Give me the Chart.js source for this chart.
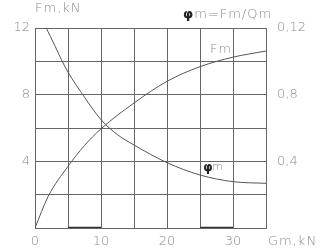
<!DOCTYPE html>
<html>
<head>
<meta charset="utf-8">
<script src="https://cdn.jsdelivr.net/npm/chart.js@4"></script>
<style>
  html, body { margin: 0; padding: 0; background: #fff; }
  #wrap { width: 323px; height: 249px; }
</style>
</head>
<body>
<div id="wrap"><canvas id="fmChart" width="323" height="249"></canvas></div>
<script>
// values
const gmFm = [0, 2, 5, 7.5, 10, 15, 20, 25, 30, 35];
const fmValues = [0, 1.9, 3.7, 4.95, 5.95, 7.5, 8.8, 9.68, 10.25, 10.62];
const gmPhi = [1.7, 3, 4, 5, 7.5, 10, 12.5, 15, 20, 25, 30, 35];
const phiValues = [0.12, 0.1095, 0.101, 0.0935, 0.0785, 0.065, 0.056, 0.0498, 0.0392, 0.0318, 0.0278, 0.0268];
const boldMarksX = [5, 10, null, 25, 30];

const xTickValues = [0, 10, 20, 30];
const xTickLabels = ['0', '10', '20', '30'];
const leftTickValues = [4, 8, 12];
const leftTickLabels = ['4', '8', '12'];
const rightTickValues = [0.04, 0.08, 0.12];
const rightTickLabels = ['0,4', '0,8', '0,12'];

const lineColor = '#666';
const textColor = '#8a8a8a';
const tickFont = { family: 'DejaVu Sans', size: 13, weight: 200 };

function pick(values, labels, v) {
    const i = values.findIndex(t => Math.abs(t - v) < 1e-6);
    return i >= 0 ? labels[i] : '';
}

const textPlugin = {
    id: 'cadText',
    afterDraw(chart) {
        const ctx = chart.ctx;
        const x = chart.scales.x, y = chart.scales.y, y1 = chart.scales.y1;
        ctx.save();
        ctx.fillStyle = textColor;
        ctx.letterSpacing = '1px';
        ctx.textBaseline = 'middle';
        ctx.font = '200 13px "DejaVu Sans"';
        ctx.textAlign = 'left';
        ctx.fillText('Fm,kN', 35, 9);
        ctx.fillText('Gm,kN', x.right + 2, x.bottom - 7);
        // phi title
        let px = 183;
        ctx.fillStyle = '#222';
        ctx.font = 'bold 13px "DejaVu Sans"';
        ctx.fillText('φ', px, 15);
        px += ctx.measureText('φ').width;
        ctx.fillStyle = textColor;
        ctx.font = '200 13px "DejaVu Sans"';
        ctx.fillText('m=Fm/Qm', px, 15);
        // curve labels
        ctx.fillText('Fm', x.getPixelForValue(26.5), y.getPixelForValue(10.7));
        ctx.fillStyle = '#222';
        ctx.font = 'bold 12px "DejaVu Sans"';
        const lx = x.getPixelForValue(25.5), ly = y1.getPixelForValue(0.036);
        ctx.fillText('φ', lx, ly);
        ctx.fillStyle = textColor;
        ctx.font = '200 11px "DejaVu Sans"';
        ctx.fillText('m', lx + 9, ly - 1);
        ctx.restore();
    }
};

new Chart(document.getElementById('fmChart'), {
    type: 'line',
    data: {
        datasets: [
            {
                label: 'Fm',
                data: gmFm.map((g, i) => ({ x: g, y: fmValues[i] })),
                yAxisID: 'y',
                borderColor: '#555', borderWidth: 1, pointRadius: 0,
                cubicInterpolationMode: 'monotone'
            },
            {
                label: 'φm',
                data: gmPhi.map((g, i) => ({ x: g, y: phiValues[i] })),
                yAxisID: 'y1',
                borderColor: '#555', borderWidth: 1, pointRadius: 0,
                cubicInterpolationMode: 'monotone'
            },
            {
                label: 'marks',
                data: boldMarksX.map(g => g === null ? { x: null, y: null } : { x: g, y: 0 }),
                yAxisID: 'y',
                borderColor: '#333', borderWidth: 2.5, pointRadius: 0,
                spanGaps: false
            }
        ]
    },
    options: {
        responsive: false,
        animation: false,
        layout: { padding: { top: 28, left: 0, right: 0, bottom: 0 } },
        plugins: { legend: { display: false }, tooltip: { enabled: false } },
        scales: {
            x: {
                type: 'linear', min: 0, max: 35,
                afterFit: s => { s.height = 21; },
                grid: { color: lineColor, drawTicks: false },
                border: { color: lineColor },
                ticks: {
                    stepSize: 5, autoSkip: false, maxRotation: 0, padding: 6,
                    color: textColor, font: tickFont,
                    callback: v => pick(xTickValues, xTickLabels, v)
                }
            },
            y: {
                position: 'left', min: 0, max: 12,
                afterFit: s => { s.width = 35; },
                grid: { color: lineColor, drawTicks: false },
                border: { color: lineColor },
                ticks: {
                    stepSize: 2, padding: 5,
                    color: textColor, font: tickFont,
                    callback: v => pick(leftTickValues, leftTickLabels, v)
                }
            },
            y1: {
                position: 'right', min: 0, max: 0.12,
                afterFit: s => { s.width = 57; },
                grid: { display: false, drawTicks: false },
                border: { color: lineColor },
                ticks: {
                    stepSize: 0.02, padding: 11,
                    color: textColor, font: tickFont,
                    callback: v => pick(rightTickValues, rightTickLabels, v)
                }
            }
        }
    },
    plugins: [textPlugin]
});
</script>
</body>
</html>
